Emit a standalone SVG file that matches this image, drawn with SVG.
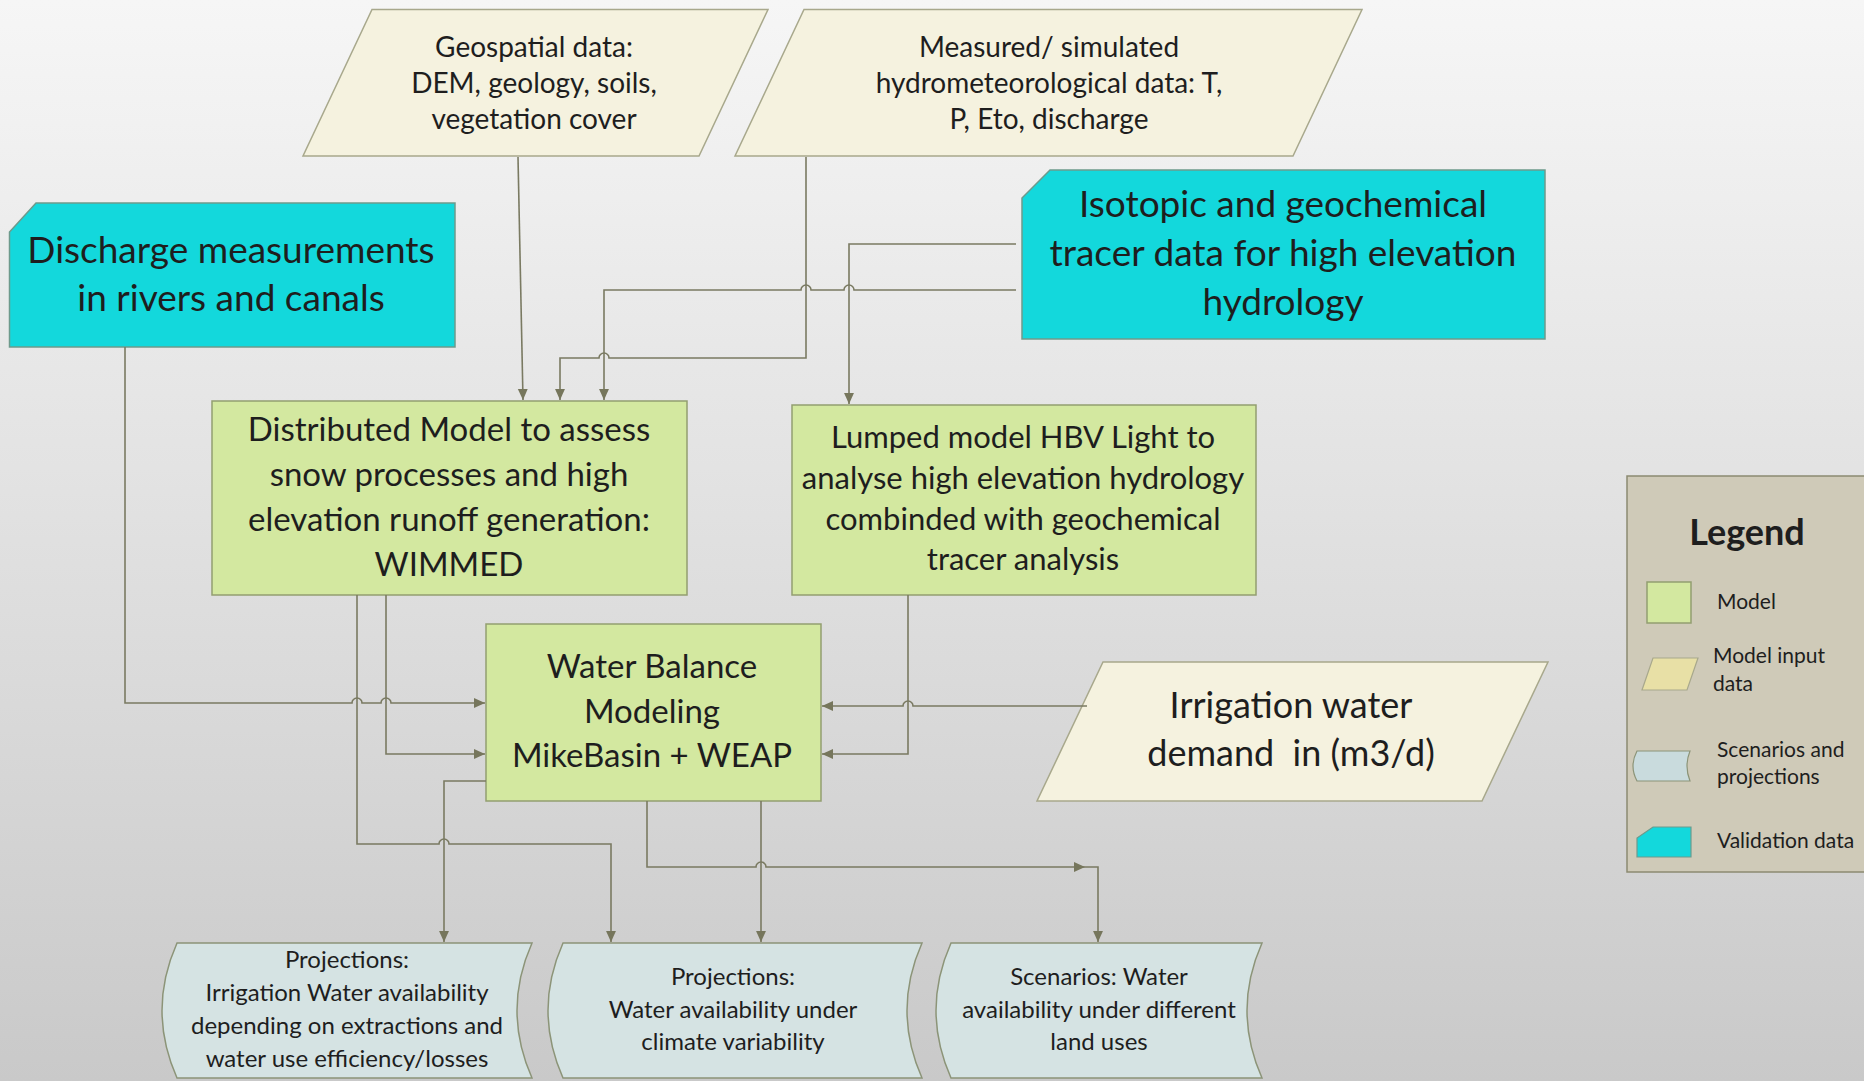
<svg xmlns="http://www.w3.org/2000/svg" width="1864" height="1081" viewBox="0 0 1864 1081">
<defs>
<linearGradient id="bg" x1="0" y1="0" x2="0" y2="1">
<stop offset="0" stop-color="#f6f6f6"/>
<stop offset="0.5" stop-color="#e0e0e0"/>
<stop offset="1" stop-color="#c9c9c9"/>
</linearGradient>
<marker id="arr" markerUnits="userSpaceOnUse" markerWidth="11" markerHeight="11" viewBox="0 0 10 10" refX="10" refY="5" orient="auto">
<path d="M0,0.5 L10,5 L0,9.5 Z" fill="#76765c"/>
</marker>
<style>
.t{font-family:Lato,"Open Sans","Noto Sans",sans-serif;fill:#1e1e1e;text-anchor:middle}
.lt{font-family:Lato,"Open Sans","Noto Sans",sans-serif;fill:#1e1e1e}
.inp{fill:#f5f2df;stroke:#a8a88c;stroke-width:1.5}
.mod{fill:#d3e8a0;stroke:#939e70;stroke-width:1.5}
.val{fill:#13d8dc;stroke:#6e9a8c;stroke-width:1.5}
.scn{fill:#d5e3e3;stroke:#8c9478;stroke-width:1.5}
.c{fill:none;stroke:#7a7a62;stroke-width:1.6}
.ca{fill:none;stroke:#7a7a62;stroke-width:1.6;marker-end:url(#arr)}
</style>
</defs>
<rect x="0" y="0" width="1864" height="1081" fill="url(#bg)"/>

<g id="geospatial">
<polygon class="inp" points="372,9.5 768,9.5 699,156 303,156"/>
<text class="t" font-size="28" x="534" y="57">Geospatial data:</text>
<text class="t" font-size="28" x="534" y="93">DEM, geology, soils,</text>
<text class="t" font-size="28" x="534" y="129">vegetation cover</text>
</g>

<g id="measured">
<polygon class="inp" points="804,9.5 1362,9.5 1293,156 735,156"/>
<text class="t" font-size="28" x="1049" y="57">Measured/ simulated</text>
<text class="t" font-size="28" x="1049" y="93">hydrometeorological data: T,</text>
<text class="t" font-size="28" x="1049" y="129">P, Eto, discharge</text>
</g>

<g id="discharge">
<path class="val" d="M36,203 L455,203 L455,347 L9.5,347 L9.5,232 Z"/>
<text class="t" font-size="37" x="231" y="263">Discharge measurements</text>
<text class="t" font-size="37" x="231" y="311">in rivers and canals</text>
</g>

<g id="isotopic">
<path class="val" d="M1050,170 L1545,170 L1545,339 L1022,339 L1022,198 Z"/>
<text class="t" font-size="37" x="1283" y="217">Isotopic and geochemical</text>
<text class="t" font-size="37" x="1283" y="266">tracer data for high elevation</text>
<text class="t" font-size="37" x="1283" y="315">hydrology</text>
</g>

<g id="distributed">
<rect class="mod" x="212" y="401" width="475" height="194"/>
<text class="t" font-size="33" x="449" y="441">Distributed Model to assess</text>
<text class="t" font-size="33" x="449" y="486">snow processes and high</text>
<text class="t" font-size="33" x="449" y="531">elevation runoff generation:</text>
<text class="t" font-size="33" x="449" y="576">WIMMED</text>
</g>

<g id="lumped">
<rect class="mod" x="792" y="405" width="464" height="190"/>
<text class="t" font-size="31" x="1023" y="448">Lumped model HBV Light to</text>
<text class="t" font-size="31" x="1023" y="489">analyse high elevation hydrology</text>
<text class="t" font-size="31" x="1023" y="530">combinded with geochemical</text>
<text class="t" font-size="31" x="1023" y="570">tracer analysis</text>
</g>

<g id="waterbalance">
<rect class="mod" x="486" y="624" width="335" height="177"/>
<text class="t" font-size="33" x="652" y="678">Water Balance</text>
<text class="t" font-size="33" x="652" y="723">Modeling</text>
<text class="t" font-size="33" x="652" y="767">MikeBasin + WEAP</text>
</g>

<g id="irrigation">
<polygon class="inp" points="1103,662 1548,662 1482,801 1037,801"/>
<text class="t" font-size="36" x="1291" y="718">Irrigation water</text>
<text class="t" font-size="36" x="1291" y="766" xml:space="preserve">demand  in (m3/d)</text>
</g>

<g id="proj-irrigation">
<path class="scn" d="M177,943 L532,943 Q502,1010.5 532,1078 L177,1078 Q147,1010.5 177,943 Z"/>
<text class="t" font-size="24" x="347" y="968">Projections:</text>
<text class="t" font-size="24" x="347" y="1001">Irrigation Water availability</text>
<text class="t" font-size="24" x="347" y="1034">depending on extractions and</text>
<text class="t" font-size="24" x="347" y="1067">water use efficiency/losses</text>
</g>

<g id="proj-climate">
<path class="scn" d="M563,943 L922,943 Q892,1010.5 922,1078 L563,1078 Q533,1010.5 563,943 Z"/>
<text class="t" font-size="24" x="733" y="985">Projections:</text>
<text class="t" font-size="24" x="733" y="1018">Water availability under</text>
<text class="t" font-size="24" x="733" y="1050">climate variability</text>
</g>

<g id="scen-landuse">
<path class="scn" d="M951,943 L1262,943 Q1232,1010.5 1262,1078 L951,1078 Q921,1010.5 951,943 Z"/>
<text class="t" font-size="24" x="1099" y="985">Scenarios: Water</text>
<text class="t" font-size="24" x="1099" y="1018">availability under different</text>
<text class="t" font-size="24" x="1099" y="1050">land uses</text>
</g>

<g id="legend">
<rect x="1627" y="476" width="260" height="396" fill="#cfcab8" stroke="#8c8a72" stroke-width="1.5"/>
<text class="t" font-size="36" font-weight="bold" x="1747" y="545">Legend</text>
<rect class="mod" x="1647" y="582" width="44" height="41"/>
<text class="lt" font-size="21" x="1717" y="609">Model</text>
<polygon points="1653,658 1698,658 1687,690 1642,690" fill="#e8e0a6" stroke="#a8a88c" stroke-width="1.2"/>
<text class="lt" font-size="21" x="1713" y="663">Model input</text>
<text class="lt" font-size="21" x="1713" y="691">data</text>
<path d="M1637,751 L1690,751 Q1684,766 1690,781 L1637,781 Q1629,766 1637,751 Z" fill="#c9dbdd" stroke="#8c9478" stroke-width="1.2"/>
<text class="lt" font-size="21" x="1717" y="757">Scenarios and</text>
<text class="lt" font-size="21" x="1717" y="784">projections</text>
<path d="M1653,827 L1691,827 L1691,857 L1637,857 L1637,838 Z" fill="#13d8dc" stroke="#6e9a8c" stroke-width="1.2"/>
<text class="lt" font-size="21" x="1717" y="848">Validation data</text>
</g>

<g id="connectors">
<path class="ca" d="M518,157 L523,400"/>
<path class="ca" d="M806,157 L806,358 L609,358 A5,5 0 0 0 599,358 L560,358 L560,400"/>
<path class="ca" d="M1016,290 L854,290 A5,5 0 0 0 844,290 L811,290 A5,5 0 0 0 801,290 L604,290 L604,400"/>
<path class="ca" d="M1016,244 L849,244 L849,404"/>
<path class="ca" d="M125,347 L125,703 L352,703 A5,5 0 0 1 362,703 L381,703 A5,5 0 0 1 391,703 L485,703"/>
<path class="ca" d="M386,595 L386,754 L485,754"/>
<path class="ca" d="M357,595 L357,844 L439,844 A5,5 0 0 1 449,844 L611,844 L611,942"/>
<path class="ca" d="M486,781 L444,781 L444,942"/>
<path class="ca" d="M761,801 L761,942"/>
<path class="ca" d="M647,801 L647,867 L756,867 A5,5 0 0 1 766,867 L1085,867"/>
<path class="ca" d="M1085,867 L1098,867 L1098,942"/>
<path class="ca" d="M908,595 L908,754 L822,754"/>
<path class="ca" d="M1087,706 L913,706 A5,5 0 0 0 903,706 L822,706"/>
</g>
</svg>
